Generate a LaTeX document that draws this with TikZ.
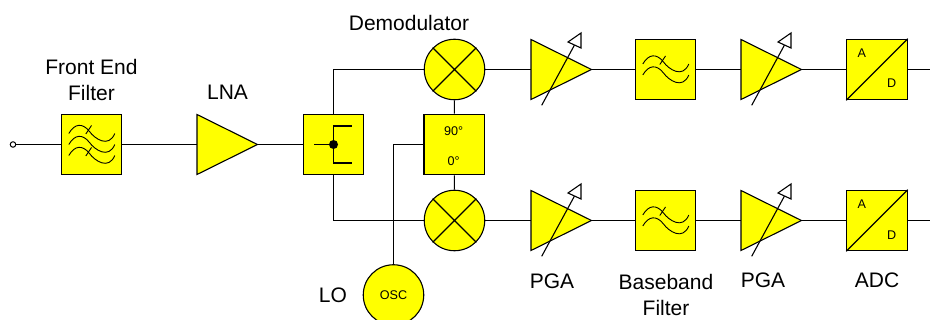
\documentclass[tikz,border=0pt]{standalone}
\usepackage{fontspec}
\setmainfont{Liberation Sans}
\usepackage{tikz}
\usetikzlibrary{calc,shapes.geometric}
\definecolor{rfyellow}{RGB}{255,255,0}

\begin{document}
\begin{tikzpicture}[
        x=1pt, y=-1pt,
        wire/.style={black, line width=1.1pt},
        block/.style={draw=black, line width=1.1pt, fill=rfyellow, minimum size=60.5pt, inner sep=0pt},
        mixer/.style={draw=black, line width=1.1pt, fill=rfyellow, circle, minimum size=60.5pt, inner sep=0pt},
        amp/.style={draw=black, line width=1.1pt, fill=rfyellow, isosceles triangle, isosceles triangle stretches=true,
            minimum width=60pt, minimum height=60.5pt, inner sep=0pt, outer sep=0pt, anchor=west},
        caption/.style={align=center, font=\fontsize{21}{26}\selectfont, inner sep=0pt},
        small/.style={font=\fontsize{12.6}{15}\selectfont, inner sep=0pt},
        terminal/.style={draw=black, line width=1pt, fill=white, circle, minimum size=5.5pt, inner sep=0pt},
        wave/.pic={\draw[black, line width=0.9pt] (-22.7,0) .. controls (-17,-10) and (-9,-11) .. (-2,-2)
            .. controls (3,5) and (17,15) .. (23.3,0);},
        wavetick/.pic={\draw[black, line width=0.9pt] (-5.7,0.5) -- (0,-8);},
        gain/.pic={\draw[wire] (10.7,35.8) -- (43.5,-24.5);
            \draw[wire, fill=white] (50,-36.5) -- (37,-27.5) -- (50,-21.5) -- cycle;},
    ]
    \useasboundingbox (0,0) rectangle (930,320);
    % blocks, left to right
    \node[terminal] (in) at (13,144.5) {};
    \node[block] (fefilter) at (91.5,144.5) {};
    \node[amp] (lna) at (197,144.5) {};
    \node[block] (split) at (333.5,144.5) {};
    \node[mixer] (mixI) at (454.5,69.5) {};
    \node[mixer] (mixQ) at (454.5,220.5) {};
    \node[block] (phase) at (454.2,144.5) {};
    \node[mixer] (osc) at (393.5,295) {};
    \node[amp] (pgaI) at (531,69.5) {};
    \node[amp] (pgaQ) at (531,220.5) {};
    \node[block] (bbI) at (665.5,69.5) {};
    \node[block] (bbQ) at (665.5,220.5) {};
    \node[amp] (pgaIb) at (741,69.5) {};
    \node[amp] (pgaQb) at (741,220.5) {};
    \node[block] (adcI) at (877,69.5) {};
    \node[block] (adcQ) at (877,220.5) {};
    \coordinate (outI) at (930,69.5);
    \coordinate (outQ) at (930,220.5);
    % connectors
    \draw[wire] (in) -- (fefilter);
    \draw[wire] (fefilter) -- (lna.west);
    \draw[wire] (lna.east) -- (split);
    \draw[wire] (split.north) |- (mixI.west);
    \draw[wire] (split.south) |- (mixQ.west);
    \draw[wire] (mixI) -- (phase);
    \draw[wire] (mixQ) -- (phase);
    \draw[wire] (osc.north) |- (phase.west);
    \draw[wire] (mixI) -- (pgaI.west);
    \draw[wire] (mixQ) -- (pgaQ.west);
    \draw[wire] (pgaI.east) -- (bbI);
    \draw[wire] (pgaQ.east) -- (bbQ);
    \draw[wire] (bbI) -- (pgaIb.west);
    \draw[wire] (bbQ) -- (pgaQb.west);
    \draw[wire] (pgaIb.east) -- (adcI);
    \draw[wire] (pgaQb.east) -- (adcQ);
    \draw[wire] (adcI) -- (outI);
    \draw[wire] (adcQ) -- (outQ);
    % mixer crosses
    \draw[wire] (mixI.45) -- (mixI.225) (mixI.135) -- (mixI.315);
    \draw[wire] (mixQ.45) -- (mixQ.225) (mixQ.135) -- (mixQ.315);
    % filter symbols
    \pic at ($(fefilter)+(0,-11)$) {wave};
    \pic at ($(fefilter)+(0,-11)$) {wavetick};
    \pic at (fefilter) {wave};
    \pic at ($(fefilter)+(0,11)$) {wave};
    \pic at ($(fefilter)+(0,11)$) {wavetick};
    \pic at ($(bbI)+(0,-5.5)$) {wave};
    \pic at ($(bbI)+(0,-5.5)$) {wavetick};
    \pic at ($(bbI)+(0,5.5)$) {wave};
    \pic at ($(bbQ)+(0,-5.5)$) {wave};
    \pic at ($(bbQ)+(0,-5.5)$) {wavetick};
    \pic at ($(bbQ)+(0,5.5)$) {wave};
    % splitter symbol
    \draw[wire] (314,144.5) -- (split.center);
    \draw[wire] (351.7,126) -| (split.center) |- (351.7,163);
    \fill[black] (split.center) circle (4.5);
    % gain arrows
    \pic at (pgaI.west) {gain};
    \pic at (pgaQ.west) {gain};
    \pic at (pgaIb.west) {gain};
    \pic at (pgaQb.west) {gain};
    % converters
    \draw[wire] (adcI.south west) -- (adcI.north east);
    \draw[wire] (adcQ.south west) -- (adcQ.north east);
    \node[small] (aI) at (861.7,53) {A};
    \node[small] (dI) at (891.7,83) {D};
    \node[small] (aQ) at (861.7,204) {A};
    \node[small] (dQ) at (891.7,235) {D};
    % small labels
    \node[small] (ninety) at (453.7,131) {90°};
    \node[small] (zero) at (453.7,161) {0°};
    \node[small] (osctext) at (393.5,295) {OSC};
    % captions
    \node[caption] (fecap) at (91.5,80) {Front End\\Filter};
    \node[caption] (lnacap) at (227.5,92) {LNA};
    \node[caption] (demodcap) at (409,23) {Demodulator};
    \node[caption] (locap) at (333,295) {LO};
    \node[caption] (pgacap) at (552,281) {PGA};
    \node[caption] (bbcap) at (666,295) {Baseband\\Filter};
    \node[caption] (pgabcap) at (763,280) {PGA};
    \node[caption] (adccap) at (877,280) {ADC};
\end{tikzpicture}
\end{document}
